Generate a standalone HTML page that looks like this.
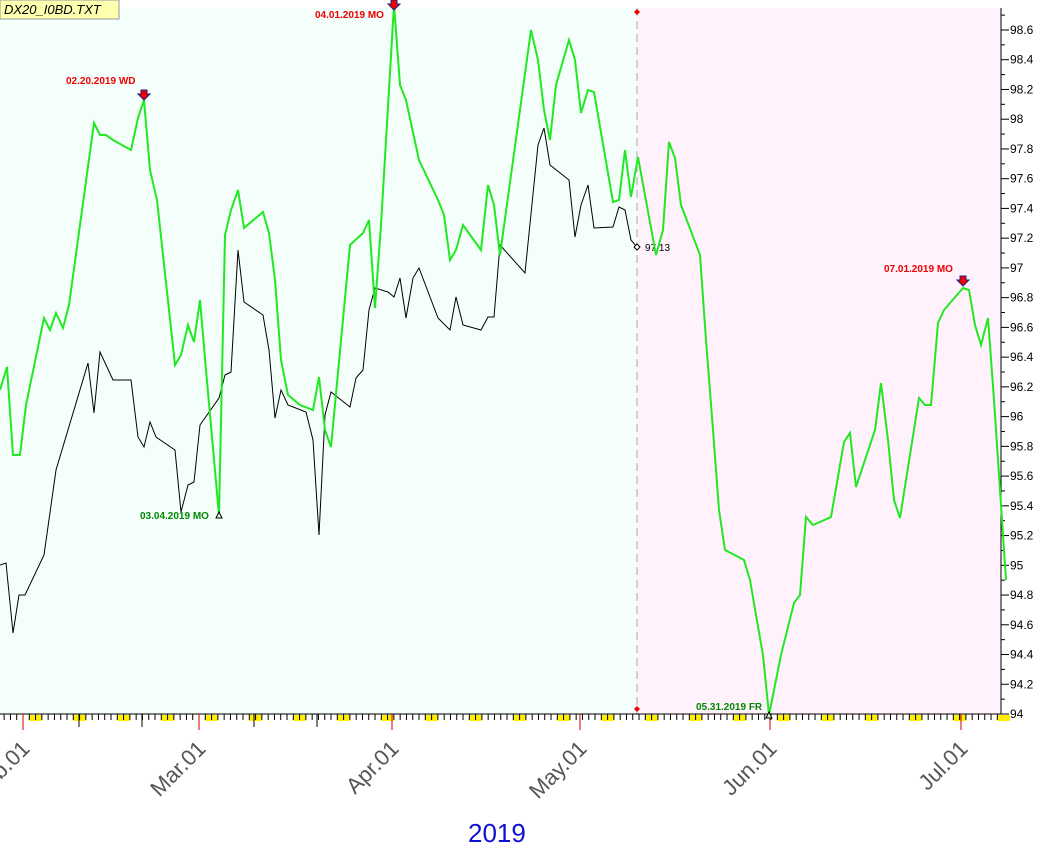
<!DOCTYPE html>
<html><head><meta charset="utf-8"><style>
body{margin:0;background:#fff;width:1063px;height:849px;overflow:hidden}
svg{display:block;font-family:"Liberation Sans",sans-serif}
</style></head><body>
<svg id="s" width="1063" height="849" xmlns="http://www.w3.org/2000/svg">
<rect x="0" y="8" width="637" height="706" fill="#f4fffc"/>
<rect x="637" y="8" width="364" height="706" fill="#fff2fc"/>
<line x1="637" y1="8" x2="637" y2="714" stroke="#aaa" stroke-dasharray="8,5"/>
<path d="M637 9l3 3-3 3-3-3z M637 706l3 3-3 3-3-3z" fill="#e00"/>
<g id="ax"></g>
<polyline fill="none" stroke="#000" stroke-width="1" points="0,565 6,563 13,633 19,595 25,595 44,555 56,470 88,363 94,413 100,352 113,380 131,380 138,437 144,447 150,422 156,437 175,450 181,512 188,485 194,482 200,425 219,398 225,375 231,372 238,250 244,302 263,315 269,350 275,418 281,390 288,405 306,412 313,440 319,535 325,415 331,392 350,407 356,378 363,370 369,310 375,288 388,292 394,297 400,278 406,318 413,278 419,268 438,318 450,330 456,297 463,325 481,330 488,317 494,317 500,245 525,273 538,145 544,128 550,165 569,180 575,237 581,205 588,185 594,228 613,227 619,207 625,210 631,240 637,247"/>
<path d="M637 244l3 3-3 3-3-3z" fill="#fff" stroke="#000"/>
<text x="645" y="251" font-size="10" fill="#000">97.13</text>
<polyline fill="none" stroke="#22e822" stroke-width="2" points="0,390 7,367 13,455 20,455 26,405 44,318 50,330 56,313 63,328 69,305 94,123 100,135 106,135 113,140 131,150 138,118 144,100 150,170 157,200 175,365 181,355 188,325 194,342 200,300 206,370 219,515 225,235 231,210 238,190 244,228 263,212 269,233 275,280 281,360 288,395 300,405 313,410 319,377 325,430 331,447 350,245 363,233 369,220 375,308 381,225 394,5 400,85 406,100 419,160 438,200 444,215 450,260 456,250 463,225 481,250 488,185 494,205 500,255 531,30 538,60 544,110 550,140 556,85 569,40 575,60 581,113 588,90 594,92 613,202 619,200 625,150 631,197 638,157 656,255 663,230 669,142 675,158 681,205 700,255 706,340 713,430 719,510 725,550 744,560 750,580 756,615 763,655 769,715 781,655 794,603 800,595 806,517 813,525 831,517 844,442 850,433 856,487 875,430 881,383 888,440 894,500 900,518 919,398 925,405 931,405 938,323 944,310 963,288 969,290 975,325 981,345 988,318 994,400 1000,490 1006,580"/>
<g font-size="10" font-weight="bold">
<text x="66" y="84" fill="#e00">02.20.2019 WD</text>
<text x="315" y="18" fill="#e00">04.01.2019 MO</text>
<text x="884" y="272" fill="#e00">07.01.2019 MO</text>
<text x="140" y="519" fill="#080">03.04.2019 MO</text>
<text x="696" y="710" fill="#080">05.31.2019 FR</text>
</g>
<g fill="#e00" stroke="#228" stroke-width="1">
<path d="M141 90h6v4h3l-6 6-6-6h3z"/><path d="M391 0h6v4h3l-6 6-6-6h3z"/><path d="M960 276h6v4h3l-6 6-6-6h3z"/>
</g>
<path d="M219 512l-3 6h6z M769 712l-3 6h6z" fill="#cfc" stroke="#000"/>
<rect x="0" y="0" width="119" height="19" fill="#ffffb0" stroke="#999"/>
<text x="4" y="14" font-size="13" font-style="italic" fill="#000">DX20_I0BD.TXT</text>
<text x="468" y="842" font-size="26" fill="#1010d0">2019</text>
</svg>
<script>
var g=document.getElementById('ax'),h='';
h+='<line x1="1001" y1="8" x2="1001" y2="714" stroke="#000"/><line x1="0" y1="714" x2="1001" y2="714" stroke="#000"/>';
for(var i=0;i<=47;i++){var v=94+i*0.1,y=714-(v-94)*148.7;if(y<8)break;h+='<line x1="1001" y1="'+y+'" x2="'+(i%2?1005:1009)+'" y2="'+y+'" stroke="#000"/>';if(i%2==0)h+='<text x="1010" y="'+(y+4)+'" font-size="12" fill="#000">'+(Math.round(v*10)/10)+'</text>';}
var d=6.286;
for(var x=29-d*7;x<1000;x+=d*7){h+='<rect x="'+x+'" y="715" width="13" height="6" fill="#ffee00"/>';}
for(var x=23-d*3;x<1000;x+=d){if(x>=0)h+='<line x1="'+x+'" y1="714" x2="'+x+'" y2="720" stroke="#000"/>';}
[79,142,254,317].forEach(function(x){h+='<line x1="'+x+'" y1="714" x2="'+x+'" y2="727" stroke="#000"/>';});
var m=[[23,'Feb.01'],[199,'Mar.01'],[392,'Apr.01'],[580,'May.01'],[770,'Jun.01'],[961,'Jul.01']];
m.forEach(function(a){h+='<line x1="'+a[0]+'" y1="714" x2="'+a[0]+'" y2="730" stroke="#c00"/>';h+='<text transform="translate('+(a[0]+8)+',750) rotate(-45)" text-anchor="end" font-size="22" fill="#555">'+a[1]+'</text>';});
g.innerHTML=h;
</script>
</body></html>
